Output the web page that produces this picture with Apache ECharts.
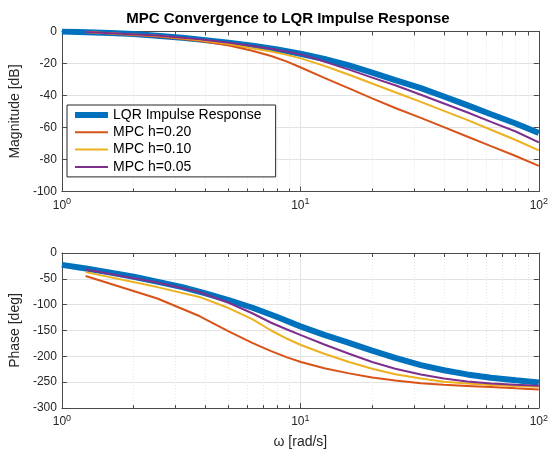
<!DOCTYPE html>
<html>
<head>
<meta charset="utf-8">
<script src="https://cdn.jsdelivr.net/npm/echarts@6/dist/echarts.min.js"></script>
<style>
  html, body { margin: 0; padding: 0; background: #fff; }
  #chart { width: 551px; height: 450px; }
</style>
</head>
<body>
<div id="chart"></div>
<script>
// Frequencies [rad/s]
const wLqr = [1, 1.26, 1.6, 2, 2.5, 3.2, 4, 5, 6.3, 8, 10, 12.6, 16, 20, 25, 32, 40, 50, 63, 80, 100];
const wMpc = [1.257, 2.513, 3.77, 5.027, 6.283, 7.54, 8.796, 10.05, 12.6, 16, 20, 25, 32, 40, 50, 63, 80, 100];

// Magnitude [dB]
const magLqr  = [0, -0.4, -0.9, -1.6, -2.6, -3.9, -5.4, -7.0, -8.9, -11.2, -13.9, -17.2, -21.2, -25.7, -30.4, -35.4, -40.6, -46.0, -51.7, -57.5, -63.5];
const magH020 = [-0.3, -3.1, -5.8, -8.8, -12.0, -15.3, -18.8, -22.5, -29.0, -35.5, -41.8, -47.8, -54.0, -59.8, -65.6, -71.6, -77.8, -84.0];
const magH010 = [-0.3, -2.7, -5.3, -7.8, -10.5, -12.5, -14.6, -16.8, -21.5, -27.0, -32.5, -38.0, -44.0, -49.6, -55.2, -61.4, -67.8, -74.3];
const magH005 = [-0.3, -2.5, -4.9, -7.0, -9.1, -10.8, -12.6, -14.3, -18.8, -23.8, -28.8, -33.6, -39.5, -45.0, -50.5, -56.5, -62.5, -69.3];

// Phase [deg]
const phLqr  = [-23, -30, -38, -46, -55.5, -66, -78, -91, -106, -124, -142, -158.5, -174, -189, -203, -217, -227, -235, -241.5, -246.5, -250.5];
const phH020 = [-44.4, -88, -122, -152, -174, -190, -202, -211, -223, -233, -241, -246.6, -252, -255.2, -257.3, -259.5, -262, -264];
const phH010 = [-37, -66, -85, -107, -128, -150, -166, -178, -195, -211, -224, -234.5, -243, -249.3, -252.5, -255.4, -257.3, -259];
const phH005 = [-32, -57, -75.5, -96.7, -116.6, -135, -148, -159, -177, -195, -211, -224, -235, -243, -248.5, -252.5, -255, -257];

const seriesNames = ['LQR Impulse Response', 'MPC h=0.20', 'MPC h=0.10', 'MPC h=0.05'];
const seriesColors = ['#0072BD', '#D95319', '#EDB120', '#7E2F8E'];
const seriesWidths = [6, 2, 2, 2];

const majorTicks = [1, 10, 100];
const minorTicks = [2, 3, 4, 5, 6, 7, 8, 9, 20, 30, 40, 50, 60, 70, 80, 90];

const FONT = 'Liberation Sans, Arial, Helvetica, sans-serif';
const AXIS_COLOR = '#4a4a4a';
const TEXT_COLOR = '#262626';

function pairs(xs, ys) { return xs.map((x, i) => [x, ys[i]]); }

function tickLabel(v) {
  const e = Math.round(Math.log10(v));
  return '{b|10}{s|' + e + '}';
}

function xAxesFor(gridIndex, withName) {
  const base = { type: 'log', logBase: 10, min: 1, max: 100, gridIndex: gridIndex };
  return [
    Object.assign({}, base, {
      position: 'bottom',
      axisLine: { show: true, onZero: false, lineStyle: { color: AXIS_COLOR, width: 1 } },
      axisTick: { show: true, inside: true, length: 5, customValues: majorTicks, lineStyle: { color: AXIS_COLOR } },
      axisLabel: {
        show: true, customValues: majorTicks, formatter: tickLabel, margin: 6,
        rich: {
          b: { fontSize: 12, fontFamily: FONT, color: TEXT_COLOR },
          s: { fontSize: 9, fontFamily: FONT, color: TEXT_COLOR, padding: [0, 0, 7, 0] }
        }
      },
      splitLine: { show: true, lineStyle: { color: '#e3e3e3', width: 1 } },
      name: withName ? 'ω [rad/s]' : '',
      nameLocation: 'middle',
      nameGap: 27,
      nameTextStyle: { fontSize: 14, fontFamily: FONT, color: TEXT_COLOR }
    }),
    Object.assign({}, base, {
      position: 'bottom',
      axisLine: { show: false, onZero: false },
      axisTick: { show: true, inside: true, length: 3, customValues: minorTicks, lineStyle: { color: AXIS_COLOR } },
      axisLabel: { show: false },
      splitLine: { show: true, lineStyle: { color: '#e6e6e6', width: 1, type: [1, 2] } }
    }),
    Object.assign({}, base, {
      position: 'top',
      axisLine: { show: true, onZero: false, lineStyle: { color: AXIS_COLOR, width: 1 } },
      axisTick: { show: true, inside: true, length: 4, customValues: majorTicks.concat(minorTicks), lineStyle: { color: AXIS_COLOR } },
      axisLabel: { show: false },
      splitLine: { show: false }
    })
  ];
}

function yAxesFor(gridIndex, min, max, interval, name) {
  return [
    {
      type: 'value', gridIndex: gridIndex, min: min, max: max, interval: interval, position: 'left',
      axisLine: { show: true, onZero: false, lineStyle: { color: AXIS_COLOR, width: 1 } },
      axisTick: { show: true, inside: true, length: 5, lineStyle: { color: AXIS_COLOR } },
      axisLabel: { fontSize: 12, fontFamily: FONT, color: TEXT_COLOR, margin: 5 },
      splitLine: { show: true, lineStyle: { color: '#e3e3e3', width: 1 } },
      name: name, nameLocation: 'middle', nameGap: 30, nameRotate: 90,
      nameTextStyle: { fontSize: 14, fontFamily: FONT, color: TEXT_COLOR }
    },
    {
      type: 'value', gridIndex: gridIndex, min: min, max: max, interval: interval, position: 'right',
      axisLine: { show: true, onZero: false, lineStyle: { color: AXIS_COLOR, width: 1 } },
      axisTick: { show: true, inside: true, length: 5, lineStyle: { color: AXIS_COLOR } },
      axisLabel: { show: false },
      splitLine: { show: false }
    }
  ];
}

const magData = [pairs(wLqr, magLqr), pairs(wMpc, magH020), pairs(wMpc, magH010), pairs(wMpc, magH005)];
const phData  = [pairs(wLqr, phLqr),  pairs(wMpc, phH020),  pairs(wMpc, phH010),  pairs(wMpc, phH005)];

function lineSeries(i, data, xIdx, yIdx) {
  return {
    name: seriesNames[i], type: 'line', data: data,
    xAxisIndex: xIdx, yAxisIndex: yIdx,
    showSymbol: false, symbol: 'none', smooth: false, animation: false,
    lineStyle: { color: seriesColors[i], width: seriesWidths[i] },
    itemStyle: { color: seriesColors[i] },
    z: 3 + i
  };
}

const series = [];
for (let i = 0; i < 4; i++) series.push(lineSeries(i, magData[i], 0, 0));
for (let i = 0; i < 4; i++) series.push(lineSeries(i, phData[i], 3, 2));

const legendItems = seriesNames.map((n, i) => ({
  name: n,
  lineStyle: { width: seriesWidths[i], color: seriesColors[i] }
}));

const chart = echarts.init(document.getElementById('chart'), null, { renderer: 'canvas' });
chart.setOption({
  backgroundColor: '#ffffff',
  animation: false,
  title: {
    text: 'MPC Convergence to LQR Impulse Response',
    left: 283, top: 6, textAlign: 'center',
    textStyle: { fontSize: 15, fontWeight: 'bold', fontFamily: FONT, color: '#000' }
  },
  grid: [
    { left: 56, top: 31.5, width: 485, height: 160 },
    { left: 56, top: 253, width: 485, height: 160 }
  ],
  xAxis: xAxesFor(0, false).concat(xAxesFor(1, true)),
  yAxis: yAxesFor(0, -100, 0, 20, 'Magnitude [dB]').concat(yAxesFor(1, -300, 0, 50, 'Phase [deg]')),
  legend: {
    data: legendItems,
    orient: 'vertical',
    left: 67, top: 105,
    padding: [3, 14, 3, 5],
    itemWidth: 33, itemHeight: 14, itemGap: 3.3,
    itemStyle: { color: 'rgba(0,0,0,0)', borderWidth: 0 },
    backgroundColor: '#ffffff',
    borderColor: '#262626', borderWidth: 1,
    textStyle: { fontSize: 14, fontFamily: FONT, color: '#000' },
    selectedMode: false,
    z: 10
  },
  series: series
});
</script>
</body>
</html>
